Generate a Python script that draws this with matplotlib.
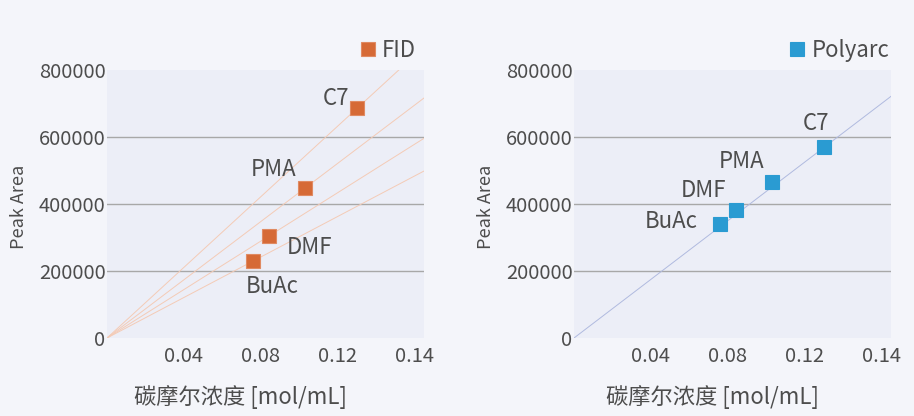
import numpy as np
import matplotlib
matplotlib.use('Agg')
import matplotlib.pyplot as plt

plt.rcParams['font.family'] = ['Noto Sans CJK SC', 'DejaVu Sans']

# data
compounds = ['C7', 'PMA', 'DMF', 'BuAc']
conc = [0.130, 0.103, 0.084, 0.076]              # mol/mL
fid_area = [686000, 448000, 304000, 230000]
polyarc_area = [570000, 466000, 382000, 340000]
polyarc_slope = 4.38e6                            # single calibration line

xticks = [0.04, 0.08, 0.12, 0.16]
xticklabels = ['0.04', '0.08', '0.12', '0.14']
yticks = [0, 200000, 400000, 600000, 800000]

# label offsets in pixels (dx, dy) for each compound
fid_offsets = {'C7': (-21, 10), 'PMA': (-32, 18), 'DMF': (41, -11), 'BuAc': (19, -26)}
polyarc_offsets = {'C7': (-8, 24), 'PMA': (-31, 20), 'DMF': (-32, 20), 'BuAc': (-49, 3)}

text_color = '#4d4d4d'
fig_bg = '#f4f5fa'
ax_bg = '#eceef7'
xmax = 0.1647

fig = plt.figure(figsize=(9.14, 4.16), dpi=100, facecolor=fig_bg)
ax1 = fig.add_axes([107 / 914, 78 / 416, 317 / 914, 268 / 416])
ax2 = fig.add_axes([574 / 914, 78 / 416, 317 / 914, 268 / 416])


def style_axis(ax, label_x):
    ax.set_facecolor(ax_bg)
    ax.set_xlim(0, xmax)
    ax.set_ylim(0, 800000)
    ax.set_xticks(xticks)
    ax.set_xticklabels(xticklabels)
    ax.set_yticks(yticks)
    ax.set_yticklabels([str(v) for v in yticks])
    ax.tick_params(length=0, labelsize=14.5, labelcolor=text_color)
    ax.tick_params(axis='x', pad=6)
    ax.tick_params(axis='y', pad=1)
    for s in ax.spines.values():
        s.set_visible(False)
    for v in [200000, 400000, 600000]:
        ax.axhline(v, color='#a8a8a8', lw=1, zorder=1)
    ax.set_xlabel('碳摩尔浓度 [mol/mL]', fontsize=16, color=text_color)
    ax.xaxis.set_label_coords(label_x, -0.175)
    ax.set_ylabel('Peak Area', fontsize=13, color=text_color)
    ax.yaxis.set_label_coords(-0.25, 0.49)


style_axis(ax1, 0.42)
style_axis(ax2, 0.438)

# FID: one line from origin through each compound
for x, y in zip(conc, fid_area):
    ax1.plot([0, xmax], [0, y / x * xmax], color='#f4cbb6', lw=0.7, zorder=2)
ax1.plot(conc, fid_area, 's', ms=10, color='#d66a36', mec='#e08a62', mew=0.8,
         ls='none', label='FID', zorder=3)
for name, x, y in zip(compounds, conc, fid_area):
    ax1.annotate(name, (x, y), xytext=fid_offsets[name], textcoords='offset pixels',
                 ha='center', va='center', fontsize=16, color=text_color)

# Polyarc
ax2.plot([0, xmax], [0, polyarc_slope * xmax], color='#b0badf', lw=0.7, zorder=2)
ax2.plot(conc, polyarc_area, 's', ms=10, color='#2a9bd2', mec='#2a9bd2', mew=0.8,
         ls='none', label='Polyarc', zorder=3)
for name, x, y in zip(compounds, conc, polyarc_area):
    ax2.annotate(name, (x, y), xytext=polyarc_offsets[name], textcoords='offset pixels',
                 ha='center', va='center', fontsize=16, color=text_color)

for ax, xr in [(ax1, 0.975), (ax2, 0.995)]:
    leg = ax.legend(loc='lower right', bbox_to_anchor=(xr, 1.03), frameon=False,
                    fontsize=16, handlelength=0.7, handletextpad=0.3, borderpad=0,
                    borderaxespad=0, markerscale=0.95)
    for t in leg.get_texts():
        t.set_color(text_color)

fig.savefig('out.png', dpi=100, facecolor=fig_bg)
